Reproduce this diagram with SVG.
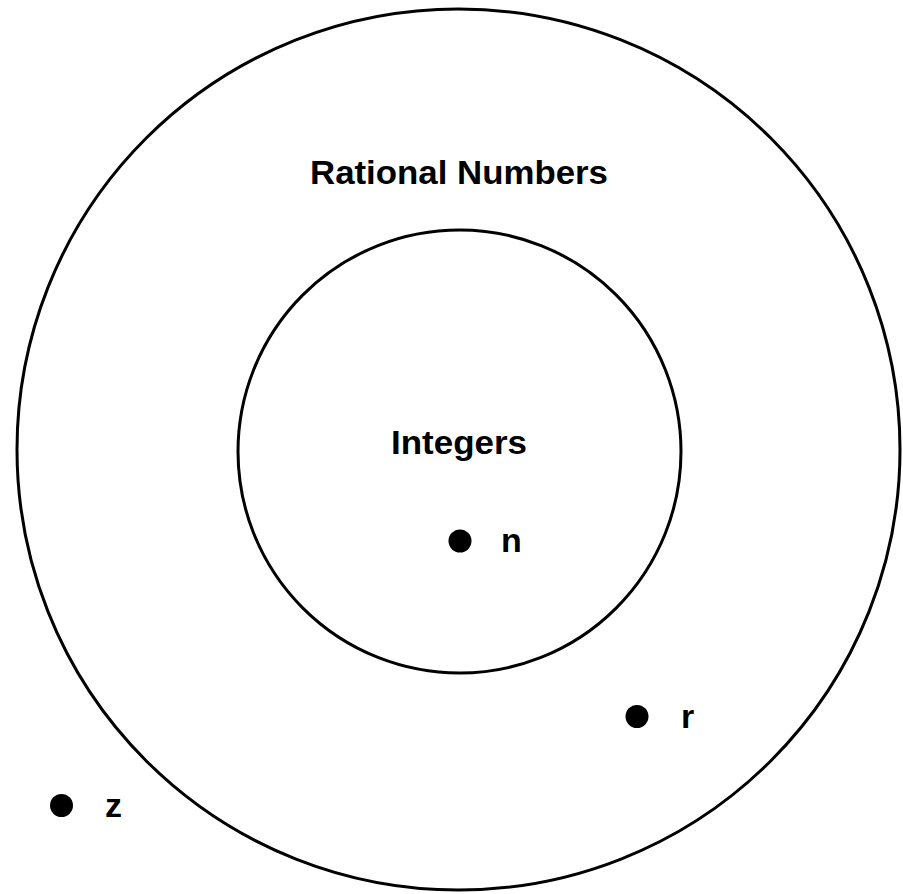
<svg xmlns="http://www.w3.org/2000/svg" width="903" height="894" viewBox="0 0 903 894">
<style>
.ring{fill:none;stroke:#000;stroke-width:3}
.dot{fill:#000}
.lbl{font-family:"Liberation Sans",Arial,sans-serif;font-weight:bold;font-size:34px;fill:#000}
</style>
<rect width="903" height="894" fill="#fff"/>
<g id="rational">
<ellipse class="ring" cx="458.5" cy="449.5" rx="441.5" ry="440.5"/>
<text class="lbl" x="310" y="184" textLength="298" lengthAdjust="spacingAndGlyphs">Rational Numbers</text>
</g>
<g id="integers">
<circle class="ring" cx="459.5" cy="451.5" r="221.5"/>
<text class="lbl" x="391" y="454" textLength="136" lengthAdjust="spacingAndGlyphs">Integers</text>
</g>
<g id="n">
<circle class="dot" cx="460" cy="541" r="11.5"/>
<text class="lbl" x="501" y="552">n</text>
</g>
<g id="r">
<circle class="dot" cx="637" cy="716.5" r="11.5"/>
<text class="lbl" x="681" y="728">r</text>
</g>
<g id="z">
<circle class="dot" cx="61.5" cy="805.5" r="11.5"/>
<text class="lbl" x="105" y="817">z</text>
</g>
</svg>
